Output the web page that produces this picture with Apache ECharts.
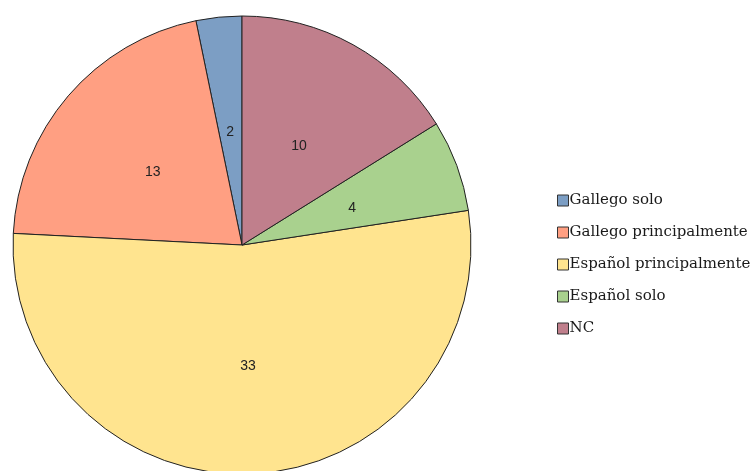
<!DOCTYPE html>
<html><head><meta charset="utf-8">
<script src="https://cdn.jsdelivr.net/npm/echarts@6/dist/echarts.min.js"></script>
<style>html,body{margin:0;padding:0;background:#fff}#c{width:752px;height:471px}</style>
</head><body><div id="c"></div>
<script>
const categories = ['Gallego solo','Gallego principalmente','Español principalmente','Español solo','NC'];
const values = [2,13,33,4,10];
const colors = ['#7c9ec4','#ff9f82','#ffe48f','#a9d18e','#c07f8c'];
const chart = echarts.init(document.getElementById('c'));
chart.setOption({
  animation:false,
  backgroundColor:'#fff',
  legend:{
    orient:'vertical', left:552, top:188,
    icon:'rect', itemWidth:11, itemHeight:11, itemGap:17,
    itemStyle:{borderColor:'#333',borderWidth:1},
    textStyle:{fontFamily:'DejaVu Serif',fontSize:15,color:'#1a1a1a',lineHeight:15,padding:[0,0,0,-4]},
    data:categories
  },
  series:[{
    type:'pie', center:[242,245], radius:229,
    startAngle:90, clockwise:false,
    label:{position:'inside',fontFamily:'Liberation Sans',fontSize:14,color:'#222',formatter:'{c}',offset:[0,4]},
    labelLine:{show:false},
    itemStyle:{borderColor:'#222',borderWidth:1},
    emphasis:{disabled:true},
    data:categories.map((n,i)=>({name:n,value:values[i],itemStyle:{color:colors[i]}}))
  }]
});
</script></body></html>
